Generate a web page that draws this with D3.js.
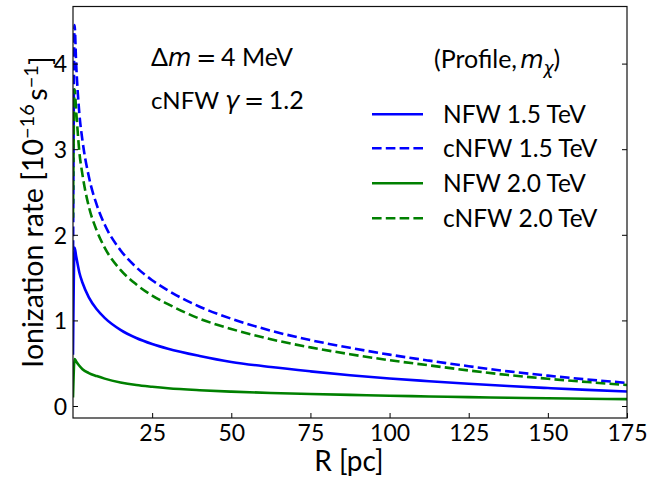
<!DOCTYPE html>
<html><head><meta charset="utf-8">
<script src="https://cdn.jsdelivr.net/npm/d3@7/dist/d3.min.js"></script>
<style>body{margin:0;background:#fff}svg{display:block}text{font-family:Lato,"DejaVu Sans",sans-serif;fill:#000}</style>
</head><body>
<script>
// Data
const R = [0, 0.5, 1, 2, 3, 5, 7.5, 10, 15, 20, 25, 30, 40, 50, 62.5, 75, 87.5, 100, 112.5, 125, 137.5, 150, 162.5, 175];
const nfw15  = [0.6, 1.85, 1.75, 1.56, 1.44, 1.27, 1.13, 1.03, 0.89, 0.795, 0.725, 0.67, 0.585, 0.515, 0.455, 0.405, 0.36, 0.322, 0.29, 0.26, 0.233, 0.21, 0.188, 0.17];
const cnfw15 = [1.5, 4.45, 4.0, 3.42, 3.1, 2.68, 2.35, 2.12, 1.82, 1.62, 1.47, 1.35, 1.16, 1.02, 0.88, 0.77, 0.68, 0.60, 0.53, 0.465, 0.405, 0.355, 0.31, 0.27];
const nfw20  = [0.1, 0.55, 0.52, 0.47, 0.43, 0.385, 0.35, 0.32, 0.275, 0.245, 0.225, 0.208, 0.185, 0.168, 0.152, 0.14, 0.13, 0.12, 0.112, 0.104, 0.097, 0.09, 0.085, 0.08];
const cnfw20 = [2.2, 3.7, 3.45, 2.97, 2.7, 2.33, 2.05, 1.85, 1.59, 1.42, 1.29, 1.19, 1.02, 0.9, 0.78, 0.685, 0.605, 0.535, 0.475, 0.415, 0.362, 0.318, 0.28, 0.245];
const xTicks = [25, 50, 75, 100, 125, 150, 175];
const yTicks = [0, 1, 2, 3, 4];
const seriesNames = ["NFW 1.5 TeV", "cNFW 1.5 TeV", "NFW 2.0 TeV", "cNFW 2.0 TeV"];
const seriesValues = [nfw15, cnfw15, nfw20, cnfw20];
const seriesColors = ["#0000ff", "#0000ff", "#008000", "#008000"];
const seriesDashed = [false, true, false, true];

const W = 648, H = 485;
const L = 73, Rt = 627, T = 6.5, B = 418;
const svg = d3.select("body").append("svg").attr("width", W).attr("height", H);
const x = d3.scaleLinear().domain([0, 175]).range([L, Rt]);
const y = d3.scaleLinear().domain([-0.14, 4.667]).range([B, T]);

svg.append("clipPath").attr("id", "c").append("rect")
  .attr("x", L).attr("y", T).attr("width", Rt - L).attr("height", B - T);

const line = d3.line().x((d, i) => x(R[i])).y(d => y(d)).curve(d3.curveMonotoneX);
const plot = svg.append("g").attr("clip-path", "url(#c)");
seriesValues.forEach((vals, k) => {
  plot.append("path").attr("d", line(vals)).attr("fill", "none")
    .attr("stroke", seriesColors[k]).attr("stroke-width", 2.6)
    .attr("stroke-dasharray", seriesDashed[k] ? "9.6,4.2" : null);
});

// axes
const xAxis = d3.axisBottom(x).tickValues(xTicks).tickSize(-5).tickPadding(7).tickFormat(d3.format("d"));
const yAxis = d3.axisLeft(y).tickValues(yTicks).tickSize(-5).tickPadding(6).tickFormat(d3.format("d"));
const yAxisR = d3.axisRight(y).tickValues(yTicks).tickSize(-5).tickFormat("");
const gx = svg.append("g").attr("transform", `translate(0,${B})`).call(xAxis);
const gy = svg.append("g").attr("transform", `translate(${L},0)`).call(yAxis);
const gyr = svg.append("g").attr("transform", `translate(${Rt},0)`).call(yAxisR);
[gx, gy, gyr].forEach(a => {
  a.select(".domain").remove();
  a.selectAll("line").attr("stroke", "#000").attr("stroke-width", 1);
  a.selectAll("text").style("font-family", "Lato").style("font-size", "23px").attr("fill", "#000");
});
gy.selectAll("text").attr("dy", "0.36em");
svg.append("rect").attr("x", L).attr("y", T).attr("width", Rt - L).attr("height", B - T)
  .attr("fill", "none").attr("stroke", "#111").attr("stroke-width", 1.2);

// axis labels
svg.append("text").attr("x", 349).attr("y", 471).attr("text-anchor", "middle")
  .style("font-size", "28px").text("R [pc]");
const yl = svg.append("text").attr("transform", "translate(43,212) rotate(-90)")
  .attr("text-anchor", "middle").style("font-size", "28.5px");
yl.append("tspan").text("Ionization rate [10");
yl.append("tspan").attr("dy", "-0.45em").style("font-size", "20px").text("\u221216");
yl.append("tspan").attr("dy", "0.45em").text("\u2009s");
yl.append("tspan").attr("dy", "-0.45em").style("font-size", "20px").text("\u22121");
yl.append("tspan").attr("dy", "0.45em").text("]");

// annotations built from text runs
const MATH = "DejaVu Sans";
function runs(px, py, parts) {
  const t = svg.append("text").attr("x", px).attr("y", py);
  parts.forEach(p => {
    const s = t.append("tspan").text(p.t).style("font-size", p.s + "px")
      .style("font-family", p.f || "Lato").style("font-style", p.i ? "italic" : "normal");
    if (p.dy) s.attr("dy", p.dy);
  });
  return t;
}
runs(151, 66, [
  {t: "\u0394", s: 25}, {t: "m", s: 24, i: true, f: MATH},
  {t: "\u2009=\u2009", s: 24, f: MATH}, {t: "4 MeV", s: 25}]);
runs(151, 109, [
  {t: "cNFW ", s: 24}, {t: "\u03b3", s: 24, i: true, f: MATH},
  {t: "\u2009=\u2009", s: 24, f: MATH}, {t: "1.2", s: 25}]);

// legend
runs(434, 68, [
  {t: "(Profile,\u2009", s: 25}, {t: "m", s: 24, i: true, f: MATH},
  {t: "\u03c7", s: 17, i: true, f: MATH, dy: 6}, {t: ")", s: 25, dy: -6}]);
const legY = [114.3, 148.3, 183.3, 218.3];
seriesNames.forEach((n, k) => {
  svg.append("line").attr("x1", 372).attr("x2", 423).attr("y1", legY[k]).attr("y2", legY[k])
    .attr("stroke", seriesColors[k]).attr("stroke-width", 2.6)
    .attr("stroke-dasharray", seriesDashed[k] ? "9.6,4.2" : null);
  svg.append("text").attr("x", 443).attr("y", legY[k]).attr("dy", "0.35em")
    .style("font-size", "24.5px").text(n);
});
</script>
</body></html>
